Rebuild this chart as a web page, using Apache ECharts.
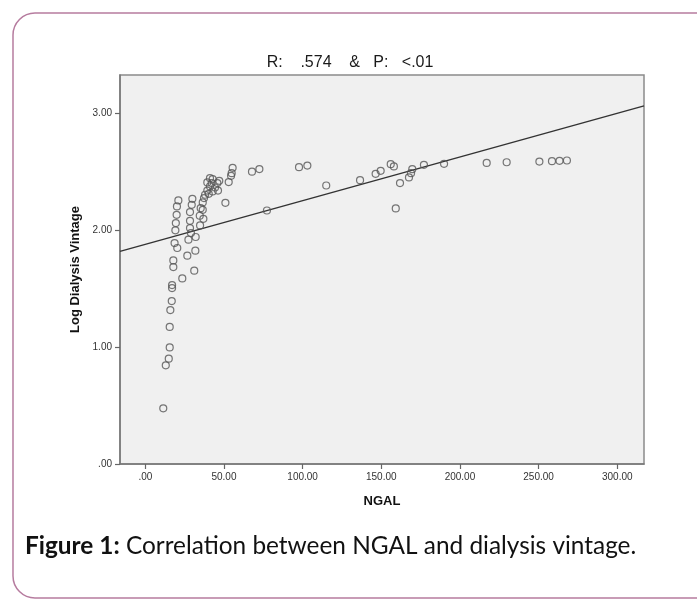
<!DOCTYPE html>
<html>
<head>
<meta charset="utf-8">
<script src="https://cdn.jsdelivr.net/npm/echarts@6/dist/echarts.min.js"></script>
<style>
html,body{margin:0;padding:0;background:#fff;}
#chart{width:697px;height:600px;}
</style>
</head>
<body>
<div id="chart"></div>
<script>
// Data
const ngal = [11.4,13.0,14.9,15.5,15.5,15.9,16.8,17.0,17.0,17.8,17.8,18.6,20.3,19.1,19.4,19.9,20.1,21.0,
  23.5,26.7,27.4,29.0,28.4,28.4,28.4,29.5,29.9,31.1,31.8,32.0,34.8,36.9,34.6,36.5,35.2,36.5,37.3,38.0,
  40.3,39.4,42.8,46.2,44.3,41.1,39.4,42.2,45.8,47.0,41.1,42.8,50.9,53.0,54.5,54.9,55.5,67.8,72.5,77.3,
  97.7,103.0,115.0,136.5,146.4,149.6,156.0,158.0,159.2,161.9,167.6,168.9,169.7,177.1,189.9,217.0,229.7,
  250.5,258.5,263.3,268.0];
const logVintage = [0.477,0.845,0.902,0.998,1.173,1.318,1.395,1.506,1.532,1.686,1.743,1.891,1.849,2.000,2.062,2.133,2.205,2.256,
  1.589,1.783,1.920,1.977,2.020,2.082,2.157,2.219,2.270,1.655,1.826,1.943,2.042,2.099,2.125,2.176,2.190,2.239,2.276,2.305,
  2.313,2.341,2.333,2.341,2.367,2.376,2.410,2.405,2.405,2.424,2.447,2.439,2.236,2.413,2.467,2.490,2.535,2.502,2.525,2.170,
  2.541,2.555,2.384,2.430,2.484,2.510,2.567,2.547,2.188,2.405,2.453,2.490,2.524,2.561,2.570,2.577,2.583,
  2.589,2.592,2.595,2.598];
const xTicks = [0,50,100,150,200,250,300];
const yTicks = [0,1,2,3];
const xMin = -16.1, xMax = 317;
const yMin = 0, yMax = 3.33;
const fitIntercept = 1.880;
const fitSlope = 0.003742;
const titleText = 'R:    .574    &   P:   <.01';
const xName = 'NGAL';
const yName = 'Log Dialysis Vintage';
const captionBold = 'Figure 1:';
const captionText = ' Correlation between NGAL and dialysis vintage.';

const fmt = v => { let s = v.toFixed(2); return s.startsWith('0') ? s.slice(1) : s; };
const points = ngal.map((x,i)=>[x, logVintage[i]]);
const fitLine = [[xMin, fitIntercept + fitSlope*xMin],[xMax, fitIntercept + fitSlope*xMax]];

const chart = echarts.init(document.getElementById('chart'), null, {renderer:'canvas'});
chart.setOption({
  animation:false,
  backgroundColor:'#fff',
  graphic:[
    {type:'rect', shape:{x:13, y:13, width:720, height:585, r:22}, style:{fill:'none', stroke:'#b67c9f', lineWidth:1.5}, silent:true, z:-1},
    {type:'text', x:350, y:63, style:{
      text:titleText, align:'center', verticalAlign:'middle',
      fontFamily:'Liberation Sans, Arial', fontSize:16, fill:'#1a1a1a'
    }},
    {type:'text', x:25, y:546, style:{
      text:'{b|'+captionBold+'}'+captionText, verticalAlign:'middle',
      rich:{b:{fontWeight:'bold', fontFamily:'Lato', fontSize:24.4, fill:'#111'}},
      fontFamily:'Lato', fontSize:24.4, fill:'#111'
    }}
  ],
  grid:{left:120, top:75, width:524, height:389, show:true, backgroundColor:'#f0f0f0', borderColor:'#8a8a8a', borderWidth:1.5},
  xAxis:{
    type:'value', min:xMin, max:xMax, name:xName, nameLocation:'middle', nameGap:31,
    nameTextStyle:{fontFamily:'Liberation Sans, Arial', fontWeight:'bold', fontSize:13, color:'#111'},
    axisLine:{show:true, onZero:false, lineStyle:{color:'#777', width:1.5}},
    axisTick:{show:true, length:5, customValues:xTicks, lineStyle:{color:'#666', width:1.2}},
    axisLabel:{customValues:xTicks, margin:8, formatter:fmt, fontFamily:'Liberation Sans, Arial', fontSize:10, color:'#333'},
    splitLine:{show:false}
  },
  yAxis:{
    type:'value', min:yMin, max:yMax, name:yName, nameLocation:'middle', nameGap:38,
    nameTextStyle:{fontFamily:'Liberation Sans, Arial', fontWeight:'bold', fontSize:13, color:'#111'},
    axisLine:{show:true, onZero:false, lineStyle:{color:'#777', width:1.5}},
    axisTick:{show:true, length:5, customValues:yTicks, lineStyle:{color:'#666', width:1.2}},
    axisLabel:{customValues:yTicks, margin:8, formatter:fmt, fontFamily:'Liberation Sans, Arial', fontSize:10, color:'#333'},
    splitLine:{show:false}
  },
  series:[
    {type:'line', data:fitLine, symbol:'none', lineStyle:{color:'#333', width:1.4}, z:2, silent:true},
    {type:'scatter', data:points, symbol:'circle', symbolSize:7,
      itemStyle:{color:'rgba(0,0,0,0)', borderColor:'#555', borderWidth:1.2}, z:3}
  ]
});
</script>
</body>
</html>
